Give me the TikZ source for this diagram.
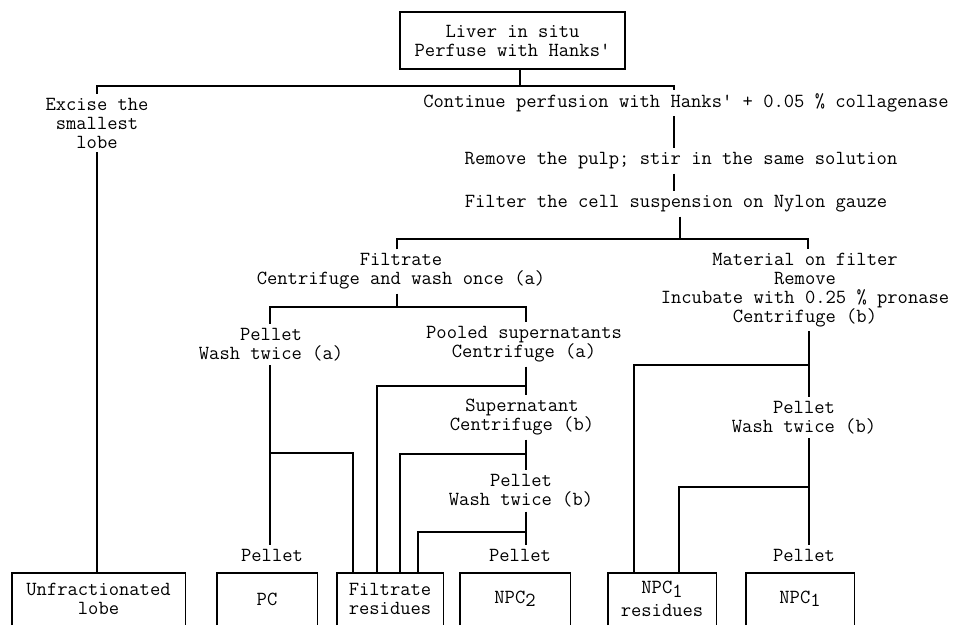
\documentclass[tikz,border=0pt]{standalone}
\usepackage{fontspec}
\newcommand\lowdig[1]{\raisebox{-3.5pt}{#1}}
\tikzset{
  txt/.style={font=\ttfamily\fontsize{20pt}{19pt}\selectfont, align=center, inner xsep=0pt, inner ysep=4pt},
  bx/.style={txt, minimum height=52pt, inner ysep=0pt},
  ln/.style={line width=1.4pt},
}
\begin{document}
\begin{tikzpicture}[x=1pt,y=-1pt]
\useasboundingbox (0,0) rectangle (968,625);
% text nodes
\node[txt, draw, ln, minimum width=225pt, minimum height=57pt] (top) at (512.5,40.5) {Liver in situ\\Perfuse with Hanks'};
\node[txt] (excise) at (97,123) {Excise the\\smallest\\lobe};
\node[txt] (cont) at (686,103) {Continue perfusion with Hanks' + 0.05 \% collagenase};
\node[txt] (remove) at (681,161) {Remove the pulp; stir in the same solution};
\node[txt] (filter) at (676,204) {Filter the cell suspension on Nylon gauze};
\node[txt] (filtrate) at (401,271.5) {Filtrate\\Centrifuge and wash once (a)};
\node[txt] (material) at (805,290) {Material on filter\\Remove\\Incubate with 0.25 \% pronase\\Centrifuge (b)};
\node[txt] (pellA) at (271,344.5) {Pellet\\Wash twice (a)};
\node[txt] (pooled) at (524,344.5) {Pooled supernatants\\Centrifuge (a)};
\node[txt] (super) at (522,417.5) {Supernatant\\Centrifuge (b)};
\node[txt] (pellB) at (521,491) {Pellet\\Wash twice (b)};
\node[txt] (pellC) at (520,555) {Pellet};
\node[txt] (pellD) at (272,555) {Pellet};
\node[txt] (matB) at (804,417.5) {Pellet\\Wash twice (b)};
\node[txt] (pellE) at (804,555) {Pellet};
% result boxes
\node[bx, minimum width=173pt] (unfr) at (98.5,599) {Unfractionated\\lobe};
\node[bx, minimum width=100pt] (pc) at (267,599) {PC};
\node[bx, minimum width=106pt] (filres) at (390,599) {Filtrate\\residues};
\node[bx, minimum width=110pt] (npc2) at (515,599) {NPC\lowdig{2}};
\node[bx, minimum width=108pt] (npc1r) at (662,599) {NPC\lowdig{1}\\[4pt]residues};
\node[bx, minimum width=108pt] (npc1) at (800,599) {NPC\lowdig{1}};
\foreach \b in {unfr,pc,filres,npc2,npc1r,npc1}
  \draw[ln] (\b.south west) |- (\b.north east) -- (\b.south east);
% junction coordinates
\coordinate (s0) at (520,86);
\coordinate (hL) at (97,86);
\coordinate (hR) at (674,86);
\coordinate (f0) at (680,239);
\coordinate (fL) at (397,239);
\coordinate (fR) at (808,239);
\coordinate (gL) at (270,307);
\coordinate (gR) at (526,307);
\coordinate (a2) at (353,453);
\coordinate (b2) at (377,386);
\coordinate (c2) at (400,454);
\coordinate (d2) at (418,532);
\coordinate (m0) at (809,365);
\coordinate (mL) at (634,365);
\coordinate (n2) at (679,487);
% connectors
\draw[ln] (s0 |- top.south) -- (s0);
\draw[ln] (hL |- excise.north) -- (hL) -- (hR) -- (hR |- cont.north);
\draw[ln] (hR |- cont.south) -- (hR |- remove.north);
\draw[ln] (hR |- remove.south) -- (hR |- filter.north);
\draw[ln] (hL |- excise.south) -- (hL |- unfr.north);
\draw[ln] (f0 |- filter.south) -- (f0);
\draw[ln] (fL |- filtrate.north) -- (fL) -- (fR) -- (fR |- material.north);
\draw[ln] (fL |- filtrate.south) -- (fL |- gL);
\draw[ln] (gL |- pellA.north) -- (gL) -- (gR) -- (gR |- pooled.north);
\draw[ln] (gL |- pellA.south) -- (gL |- pellD.north);
\draw[ln] (gL |- a2) -- (a2) -- (a2 |- filres.north);
\draw[ln] (gR |- pooled.south) -- (gR |- super.north);
\draw[ln] (gR |- b2) -- (b2) -- (b2 |- filres.north);
\draw[ln] (gR |- super.south) -- (gR |- pellB.north);
\draw[ln] (gR |- c2) -- (c2) -- (c2 |- filres.north);
\draw[ln] (gR |- pellB.south) -- (gR |- pellC.north);
\draw[ln] (gR |- d2) -- (d2) -- (d2 |- filres.north);
\draw[ln] (m0 |- material.south) -- (m0 |- matB.north);
\draw[ln] (m0) -- (mL) -- (mL |- npc1r.north);
\draw[ln] (m0 |- matB.south) -- (m0 |- pellE.north);
\draw[ln] (m0 |- n2) -- (n2) -- (n2 |- npc1r.north);
\end{tikzpicture}
\end{document}
